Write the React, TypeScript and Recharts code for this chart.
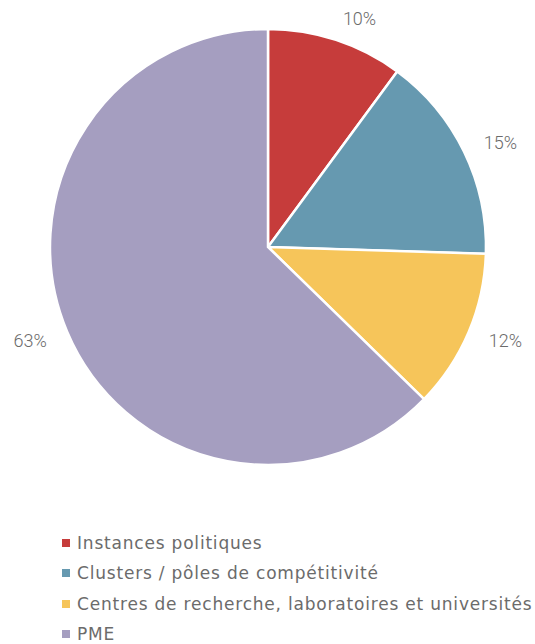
import React from 'react';
import { PieChart, Pie, Cell, Legend } from 'recharts';

const categories = [
  'Instances politiques',
  'Clusters / pôles de compétitivité',
  'Centres de recherche, laboratoires et universités',
  'PME',
];
const shares = [10.1, 15.4, 11.8, 62.7];
const shareLabels = ['10%', '15%', '12%', '63%'];
const colors = ['#C63C3B', '#6699B0', '#F6C55A', '#A59EC0'];

const data = categories.map((name, i) => ({ name, value: shares[i], label: shareLabels[i] }));

const RAD = Math.PI / 180;

const renderLabel = (props: any) => {
  const { cx, cy, midAngle, outerRadius, index } = props;
  const r = outerRadius + 22;
  const x = cx + r * Math.cos(-midAngle * RAD);
  const y = cy + r * Math.sin(-midAngle * RAD);
  return (
    <text
      x={x}
      y={y}
      textAnchor={x > cx ? 'start' : 'end'}
      dominantBaseline="central"
      fill="#6b6b6b"
      fontSize={18}
      fontFamily="Roboto, sans-serif"
      fontWeight={300}
    >
      {shareLabels[index]}
    </text>
  );
};

const LegendContent = () => (
  <div style={{ fontFamily: '"DejaVu Sans", sans-serif', fontSize: 17, letterSpacing: 0.8, color: '#6b6b6b', whiteSpace: 'nowrap' }}>
    {categories.map((c, i) => (
      <div key={c} style={{ display: 'flex', alignItems: 'center', height: 30.3 }}>
        <span style={{ width: 8, height: 8, background: colors[i], marginRight: 7, display: 'inline-block', flexShrink: 0 }} />
        <span>{c}</span>
      </div>
    ))}
  </div>
);

export default function App() {
  return (
    <div style={{ position: 'absolute', left: 0, top: 0, width: 535, height: 644, background: '#fff' }}>
      <PieChart width={535} height={644} margin={{ top: 0, right: 0, bottom: 0, left: 0 }}>
        <Pie
          data={data}
          dataKey="value"
          cx={268}
          cy={247}
          outerRadius={218}
          startAngle={90}
          endAngle={-270}
          stroke="#fff"
          strokeWidth={2.5}
          label={renderLabel}
          labelLine={false}
          isAnimationActive={false}
        >
          {data.map((d, i) => (
            <Cell key={d.name} fill={colors[i]} />
          ))}
        </Pie>
        <Legend
          content={<LegendContent />}
          layout="horizontal"
          verticalAlign="bottom"
          align="left"
          wrapperStyle={{ top: 528, left: 62, width: 473, bottom: 'auto' }}
        />
      </PieChart>
    </div>
  );
}
